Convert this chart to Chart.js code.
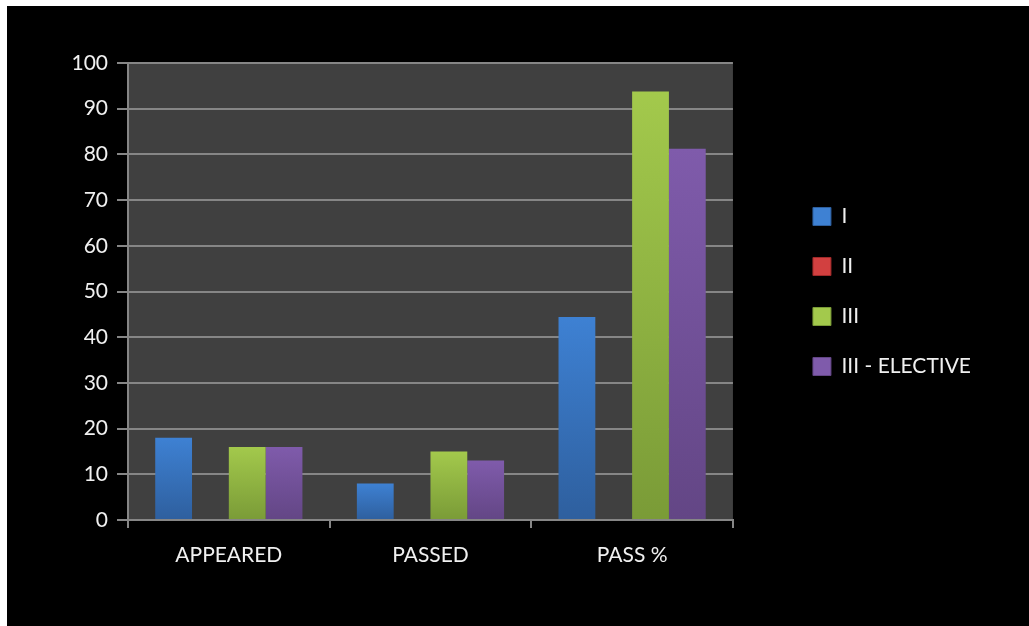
<!DOCTYPE html>
<html>
<head>
<meta charset="utf-8">
<script src="https://cdn.jsdelivr.net/npm/chart.js@4/dist/chart.umd.min.js"></script>
<style>
  html, body { margin: 0; padding: 0; background: #ffffff; }
  #wrap { position: absolute; left: 7px; top: 6px; width: 1022px; height: 620px; background: #000000; }
  canvas { display: block; }
</style>
</head>
<body>
<div id="wrap"><canvas id="chart"></canvas></div>
<script>
// 資料
const categories = ['APPEARED', 'PASSED', 'PASS %'];
const seriesNames = ['I', 'II', 'III', 'III - ELECTIVE'];
const valuesI = [18, 8, 44.4];
const valuesII = [0, 0, 0];
const valuesIII = [16, 15, 93.75];
const valuesElective = [16, 13, 81.25];
const yTicks = [0, 10, 20, 30, 40, 50, 60, 70, 80, 90, 100];

// 顏色（上、下漸層）
const tops = ['#3e81d3', '#d24040', '#a3c94c', '#7f5bab'];
const bottoms = ['#2e5f9e', '#a02a2a', '#7a9b37', '#634685'];
const gridGray = '#868686';

// 每根長條自己的漸層
function barFill(i) {
    return (ctx) => {
        const chart = ctx.chart;
        const y = chart.scales.y;
        if (!chart.chartArea || !y || ctx.raw === undefined) return tops[i];
        const y0 = y.getPixelForValue(0);
        const y1 = y.getPixelForValue(ctx.raw);
        if (!isFinite(y0) || !isFinite(y1) || y0 === y1) return tops[i];
        const g = chart.ctx.createLinearGradient(0, y1, 0, y0);
        g.addColorStop(0, tops[i]);
        g.addColorStop(1, bottoms[i]);
        return g;
    };
}

// 繪圖區背景
const plotBg = {
    id: 'plotBg',
    beforeDraw(chart) {
        const a = chart.chartArea;
        const c = chart.ctx;
        c.save();
        c.fillStyle = '#404040';
        c.fillRect(a.left, a.top, a.right - a.left, a.bottom - a.top);
        c.restore();
    }
};

const allValues = [valuesI, valuesII, valuesIII, valuesElective];

const chart = new Chart(document.getElementById('chart'), {
    type: 'bar',
    data: {
        labels: categories,
        datasets: seriesNames.map((name, i) => ({
            label: name,
            data: allValues[i],
            backgroundColor: barFill(i),
            borderWidth: 0,
            categoryPercentage: 0.73,
            barPercentage: 1.0
        }))
    },
    options: {
        responsive: true,
        maintainAspectRatio: false,
        animation: false,
        layout: { padding: { top: 57, right: 48, bottom: 0, left: 0 } },
        plugins: {
            tooltip: { enabled: false },
            legend: {
                position: 'right',
                fullSize: false,
                maxWidth: 300,
                labels: {
                    color: '#f0f0f0',
                    font: { family: 'Lato', size: 21 },
                    boxWidth: 18,
                    boxHeight: 18,
                    padding: 29,
                    generateLabels(chart) {
                        const items = Chart.defaults.plugins.legend.labels.generateLabels(chart);
                        items.forEach((it, i) => {
                            it.fillStyle = tops[i];
                            it.strokeStyle = bottoms[i];
                            it.lineWidth = 1;
                        });
                        return items;
                    }
                }
            }
        },
        scales: {
            x: {
                grid: {
                    display: true,
                    offset: true,
                    drawOnChartArea: false,
                    drawTicks: true,
                    tickLength: 8,
                    color: gridGray,
                    lineWidth: 2
                },
                border: { display: true, color: gridGray, width: 2 },
                ticks: {
                    color: '#f0f0f0',
                    font: { family: 'Lato', size: 21 },
                    padding: 15,
                    maxRotation: 0
                },
                afterFit(s) { s.height = 106; }
            },
            y: {
                min: 0,
                max: 100,
                afterBuildTicks(s) { s.ticks = yTicks.map(v => ({ value: v })); },
                grid: {
                    color: gridGray,
                    lineWidth: 2,
                    drawTicks: true,
                    tickLength: 11
                },
                border: { display: true, color: gridGray, width: 2 },
                ticks: {
                    color: '#f0f0f0',
                    font: { family: 'Lato', size: 21 },
                    padding: 9
                },
                afterFit(s) { s.width = 121; }
            },
            // 圖例與繪圖區之間的空白
            gap: {
                type: 'linear',
                position: 'right',
                display: true,
                grid: { display: false },
                border: { display: false },
                ticks: { display: false },
                afterFit(s) { s.width = 51; }
            }
        }
    },
    plugins: [plotBg]
});
</script>
</body>
</html>
